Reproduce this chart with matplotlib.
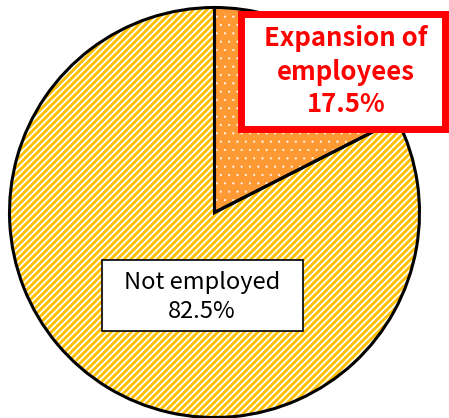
import matplotlib.pyplot as plt
from matplotlib.patches import Rectangle

# данные
labels = ["Expansion of\nemployees", "Not employed"]
shares = [17.5, 82.5]
colors = ["#FF9933", "#FFC000"]
hatches = ["..", "/////"]

W, H = 449, 418
plt.rcParams['font.family'] = ['Noto Sans CJK JP', 'DejaVu Sans']
plt.rcParams['hatch.linewidth'] = 1.3

fig = plt.figure(figsize=(W / 100, H / 100), dpi=100)
ax = fig.add_axes([0, 0, 1, 1])

cx, cy, r = 214.5, H - 212.5, 205

# заливка со штриховкой (белый цвет штриховки)
wedges, _ = ax.pie(shares, colors=colors, startangle=90, counterclock=False,
                   center=(cx, cy), radius=r, frame=True,
                   wedgeprops=dict(edgecolor='white', linewidth=0))
for w, h in zip(wedges, hatches):
    w.set_hatch(h)
if hasattr(wedges[0], 'set_hatch_linewidth'):
    wedges[0].set_hatch_linewidth(0.3)
# контуры поверх
ax.pie(shares, colors=['none', 'none'], startangle=90, counterclock=False,
       center=(cx, cy), radius=r, frame=True,
       wedgeprops=dict(edgecolor='black', linewidth=2.2, fill=False))
ax.set_xlim(0, W)
ax.set_ylim(0, H)
ax.axis('off')

# подпись 1
ax.add_patch(Rectangle((240.5, H - 128.5), 204, 115, facecolor='white',
                       edgecolor='#FF0000', linewidth=5, zorder=5))
lines1 = labels[0].split("\n") + [f"{shares[0]}%"]
for i, s in enumerate(lines1):
    ax.text(346, H - 39 - 33 * i, s, ha='center', va='center', color='#FF0000',
            fontsize=18.5, fontweight='bold', zorder=6)

# подпись 2
ax.add_patch(Rectangle((102, H - 331), 201, 71, facecolor='white',
                       edgecolor='black', linewidth=1.2, zorder=5))
ax.text(202, H - 283, labels[1], ha='center', va='center', color='black',
        fontsize=17, zorder=6)
ax.text(202, H - 311, f"{shares[1]}%", ha='center', va='center', color='black',
        fontsize=17, zorder=6)

fig.savefig("out.png", dpi=100)
